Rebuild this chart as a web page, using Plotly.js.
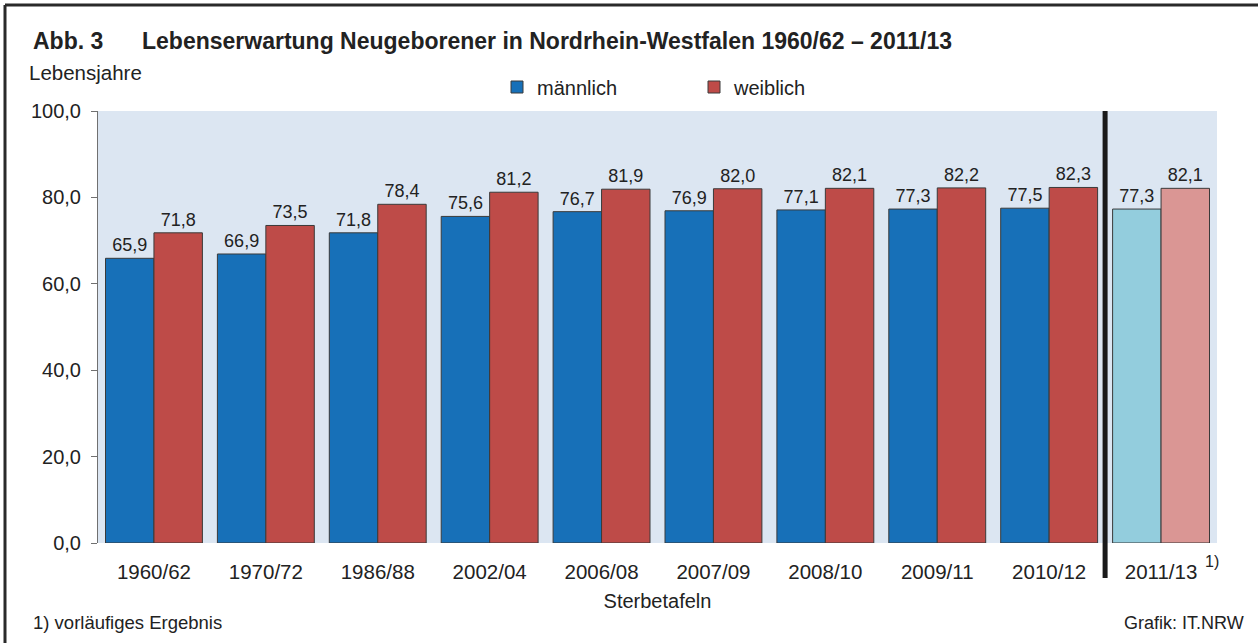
<!DOCTYPE html>
<html>
<head>
<meta charset="utf-8">
<script src="https://cdn.plot.ly/plotly-3.0.1.min.js"></script>
<style>html,body{margin:0;padding:0;background:#fff;}#chart{width:1258px;height:643px;}</style>
</head>
<body>
<div id="chart"></div>
<script>
const categories = ["1960/62","1970/72","1986/88","2002/04","2006/08","2007/09","2008/10","2009/11","2010/12","2011/13"];
const maleValues = [65.9, 66.9, 71.8, 75.6, 76.7, 76.9, 77.1, 77.3, 77.5, 77.3];
const femaleValues = [71.8, 73.5, 78.4, 81.2, 81.9, 82.0, 82.1, 82.2, 82.3, 82.1];
const yTickValues = [0, 20, 40, 60, 80, 100];

const W = 1258, H = 643;
const M = {l: 98, r: 41, t: 111, b: 100};
const PW = W - M.l - M.r, PH = H - M.t - M.b;
const px = x => (x - M.l) / PW;
const py = y => (H - M.b - y) / PH;
const FONT = '"Liberation Sans", Arial, sans-serif';
const fmt = v => v.toFixed(1).replace('.', ',');

const lastIdx = categories.length - 1;
const maleColors = categories.map((c, i) => i === lastIdx ? '#93CDDD' : '#1770B8');
const femaleColors = categories.map((c, i) => i === lastIdx ? '#DA9694' : '#BE4B48');

const traces = [
  {type: 'bar', name: 'männlich', x: categories, y: maleValues,
   marker: {color: maleColors, line: {color: '#3a3a3a', width: 1}},
   text: maleValues.map(fmt), textposition: 'outside', cliponaxis: false,
   textfont: {family: FONT, size: 18, color: '#222'}, hoverinfo: 'skip'},
  {type: 'bar', name: 'weiblich', x: categories, y: femaleValues,
   marker: {color: femaleColors, line: {color: '#3a3a3a', width: 1}},
   text: femaleValues.map(fmt), textposition: 'outside', cliponaxis: false,
   textfont: {family: FONT, size: 18, color: '#222'}, hoverinfo: 'skip'}
];

const layout = {
  width: W, height: H,
  margin: M,
  paper_bgcolor: '#ffffff',
  plot_bgcolor: '#DCE6F2',
  barmode: 'group', bargap: 0.134, bargroupgap: 0,
  font: {family: FONT, size: 18, color: '#222'},
  showlegend: true,
  legend: {orientation: 'h', x: px(497), y: py(87), xanchor: 'left', yanchor: 'middle',
           font: {family: FONT, size: 20, color: '#222'}, entrywidth: 152, entrywidthmode: 'pixels',
           bgcolor: 'rgba(0,0,0,0)', traceorder: 'normal'},
  xaxis: {type: 'category', showgrid: false, zeroline: false, showline: false,
          ticks: 'outside', ticklen: 10, tickcolor: 'rgba(0,0,0,0)',
          tickfont: {family: FONT, size: 20.5, color: '#222'},
          title: {text: 'Sterbetafeln', font: {family: FONT, size: 20, color: '#222'}, standoff: 12}},
  yaxis: {range: [0, 100], tickvals: yTickValues, ticktext: yTickValues.map(fmt),
          showgrid: false, zeroline: false, showline: true, linecolor: '#707070', linewidth: 1,
          ticks: 'outside', ticklen: 6, tickcolor: '#707070', ticklabelstandoff: 6,
          tickfont: {family: FONT, size: 20, color: '#222'}},
  shapes: [
    {type: 'line', xref: 'x', yref: 'paper', x0: 8.5, x1: 8.5, y0: 1, y1: py(578),
     line: {color: '#1a1a1a', width: 5}},
    {type: 'line', xref: 'paper', yref: 'paper', x0: px(5), x1: px(1258), y0: py(5), y1: py(5),
     line: {color: '#2a2a2a', width: 3}},
    {type: 'line', xref: 'paper', yref: 'paper', x0: px(5), x1: px(5), y0: py(5), y1: py(643),
     line: {color: '#2a2a2a', width: 3}}
  ],
  annotations: [
    {xref: 'paper', yref: 'paper', x: px(31), y: py(41), xanchor: 'left', yanchor: 'middle', showarrow: false,
     text: '<b>Abb. 3</b>', font: {family: FONT, size: 23, color: '#222'}},
    {xref: 'paper', yref: 'paper', x: px(140), y: py(41), xanchor: 'left', yanchor: 'middle', showarrow: false,
     text: '<b>Lebenserwartung Neugeborener in Nordrhein-Westfalen 1960/62 – 2011/13</b>', font: {family: FONT, size: 23, color: '#222'}},
    {xref: 'paper', yref: 'paper', x: px(27), y: py(72), xanchor: 'left', yanchor: 'middle', showarrow: false,
     text: 'Lebensjahre', font: {family: FONT, size: 20.5, color: '#222'}},
    {xref: 'paper', yref: 'paper', x: px(1203), y: py(561), xanchor: 'left', yanchor: 'middle', showarrow: false,
     text: '1)', font: {family: FONT, size: 16, color: '#222'}},
    {xref: 'paper', yref: 'paper', x: px(31), y: py(622), xanchor: 'left', yanchor: 'middle', showarrow: false,
     text: '1) vorläufiges Ergebnis', font: {family: FONT, size: 18.5, color: '#222'}},
    {xref: 'paper', yref: 'paper', x: px(1246), y: py(623), xanchor: 'right', yanchor: 'middle', showarrow: false,
     text: 'Grafik: IT.NRW', font: {family: FONT, size: 18, color: '#222'}}
  ]
};

Plotly.newPlot('chart', traces, layout, {staticPlot: true, displayModeBar: false});
</script>
</body>
</html>
